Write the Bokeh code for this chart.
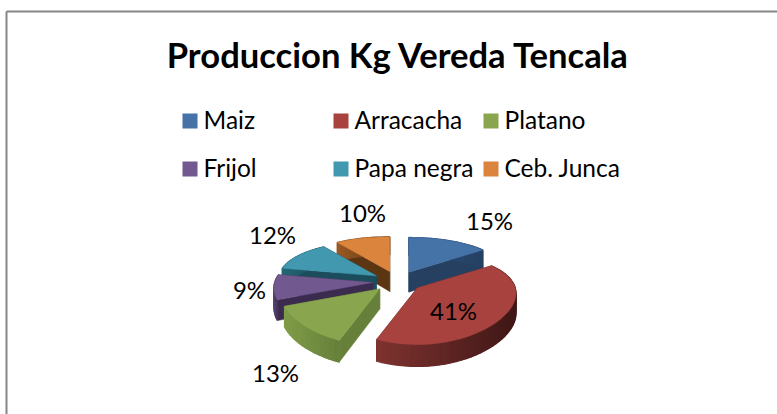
from math import sin, cos, radians
from bokeh.plotting import figure
from bokeh.models import Range1d
from bokeh.core.properties import value
from bokeh.embed import file_html
from bokeh.resources import INLINE

# ---- data ----
title = "Produccion Kg Vereda Tencala"
categories = ["Maiz", "Arracacha", "Platano", "Frijol", "Papa negra", "Ceb. Junca"]
percent = [15, 41, 13, 9, 12, 10]

# ---- styles and layout ----
top_col = ["#4572A7", "#A8423F", "#89A54E", "#71588F", "#4198AF", "#DB843D"]
cut_col = ["#254061", "#632523", "#66803A", "#3B2B4E", "#1B4D5C", "#5C3612"]
rim_left = ["#2F5280", "#7E3330", "#7F9C48", "#56406F", "#256878", "#9A5A25"]
rim_right = ["#254061", "#3F1716", "#66803A", "#3B2B4E", "#1B4D5C", "#5C3612"]
CX, CY = 397, 281
A, B, PERSP_X, PERSP_Y = 98, 43, 0.12, 0.24
EXPLODE_X, EXPLODE_Y = 25, 10.5
DEPTH = 20
draw_order = [5, 0, 4, 3, 2, 1]
label_xy = [(489, 220), (453, 310), (275, 372), (249, 289), (272, 234), (362, 212)]
legend_sq = [(182, 113), (333, 113), (483, 113), (182, 161), (333, 161), (483, 161)]
FONT = "Lato"


def hex2rgb(h):
    return tuple(int(h[i:i + 2], 16) for i in (1, 3, 5))


def mix(c1, c2, t):
    a, b = hex2rgb(c1), hex2rgb(c2)
    return "#%02x%02x%02x" % tuple(round(a[i] + (b[i] - a[i]) * t) for i in range(3))


p = figure(width=777, height=414, output_backend="svg", toolbar_location=None,
           x_range=Range1d(0, 777), y_range=Range1d(414, 0), min_border=0)
p.xaxis.visible = False
p.yaxis.visible = False
p.grid.visible = False
p.outline_line_color = None
p.background_fill_color = "white"
p.border_fill_color = "white"

# chart frame
p.line([6, 6], [414, 11], line_color="#868686", line_width=2)
p.line([6, 777], [11, 11], line_color="#868686", line_width=2)

# ---- pie, from the shares ----
edges = [0.0]
for v in percent:
    edges.append(edges[-1] + v * 3.6)


def local(theta):
    t = radians(theta)
    u, v = sin(t), cos(t)
    return A * u / (1 + PERSP_X * v), -B * v / (1 + PERSP_Y * v), v


for i in draw_order:
    a0, a1 = edges[i], edges[i + 1]
    mid = radians((a0 + a1) / 2)
    ox = CX + EXPLODE_X * sin(mid)
    oy = CY - EXPLODE_Y * cos(mid)
    n = max(6, int((a1 - a0) / 3))
    angles = [a0 + (a1 - a0) * k / n for k in range(n + 1)]
    pts = [local(a) for a in angles]
    rim = [(ox + x, oy + y, DEPTH * (1 - 0.1 * v)) for x, y, v in pts]
    d0 = DEPTH

    # radial cut faces
    for (px, py, d) in (rim[0], rim[-1]):
        p.patch([ox, px, px, ox], [oy, py, py + d, oy + d0],
                fill_color=cut_col[i], line_color=cut_col[i], line_width=0.5)
    # outer rim, slice by slice
    xmin = min(r[0] for r in rim)
    xmax = max(r[0] for r in rim)
    qx, qy, qc = [], [], []
    for k in range(n):
        x0, y0, d_0 = rim[k]
        x1, y1, d_1 = rim[k + 1]
        t = ((x0 + x1) / 2 - xmin) / max(xmax - xmin, 1)
        qx.append([x0, x1, x1, x0])
        qy.append([y0, y1, y1 + d_1, y0 + d_0])
        qc.append(mix(rim_left[i], rim_right[i], t))
    p.patches(qx, qy, fill_color=qc, line_color=qc, line_width=1.2)
    # top face
    p.patch([ox] + [r[0] for r in rim], [oy] + [r[1] for r in rim],
            fill_color=top_col[i], line_color=top_col[i], line_width=0.5)

# ---- texts ----
p.text([398], [54], text=[title], text_font=value(FONT), text_font_style="bold",
       text_font_size="34.6px", text_color="black", text_align="center", text_baseline="middle")
for i, (name, (sx, sy)) in enumerate(zip(categories, legend_sq)):
    p.rect([sx + 7.5], [sy + 7.5], width=15, height=15, fill_color=top_col[i], line_color=None)
    p.text([sx + 21], [sy + 6], text=[name], text_font=value(FONT), text_font_size="24.5px",
           text_color="black", text_align="left", text_baseline="middle")
for v, (lx, ly) in zip(percent, label_xy):
    p.text([lx], [ly], text=[f"{v}%"], text_font=value(FONT), text_font_size="24px",
           text_color="black", text_align="center", text_baseline="middle")

open("out.html", "w").write(file_html(p, INLINE))
